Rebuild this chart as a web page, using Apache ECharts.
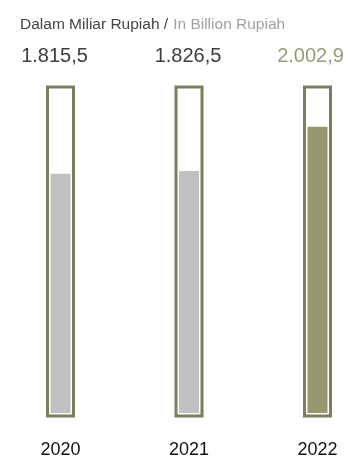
<!DOCTYPE html>
<html>
<head>
<meta charset="utf-8">
<script src="https://cdn.jsdelivr.net/npm/echarts@6/dist/echarts.min.js"></script>
<style>
  html, body { margin: 0; padding: 0; background: #fff; }
  #main { width: 350px; height: 459px; }
</style>
</head>
<body>
<div id="main"></div>
<script>
// 数据
var years = ['2020', '2021', '2022'];
var values = [1815.5, 1826.5, 2002.9];
var frameValues = [1, 1, 1];

// 颜色
var frameColor = '#7b7f5c';
var grayFill = '#c0c1c3';
var oliveFill = '#99976f';
var darkText = '#3d3d3d';
var oliveText = '#9a9a78';

// 1815.5 -> "1.815,5"
var formatId = function (v) {
    var parts = v.toFixed(1).split('.');
    var intPart = parts[0].replace(/\B(?=(\d{3})+(?!\d))/g, '.');
    return intPart + ',' + parts[1];
};

var labelOffsets = [[-6, 0], [-1, 0], [-7, 0]];

var myChart = echarts.init(document.getElementById('main'));

var option = {
    animation: false,
    title: {
        left: 15,
        top: 11,
        text: '{a|Dalam Miliar Rupiah /} {b|In Billion Rupiah}',
        textStyle: {
            fontFamily: 'Liberation Sans',
            fontWeight: 'normal',
            rich: {
                a: { fontSize: 15.5, color: '#444444', fontWeight: 'normal', fontFamily: 'Liberation Sans' },
                b: { fontSize: 15.5, color: '#a0a0a0', fontWeight: 'normal', fontFamily: 'Liberation Sans' }
            }
        }
    },
    grid: [
        { left: 60.5, right: 32.5, top: 85.5, bottom: 41.5 },
        { left: 60.5, right: 32.5, top: 86, bottom: 45 }
    ],
    xAxis: [
        {
            type: 'category',
            gridIndex: 0,
            data: years,
            boundaryGap: false,
            show: false
        },
        {
            type: 'category',
            gridIndex: 1,
            data: years,
            boundaryGap: false,
            axisLine: { show: false },
            axisTick: { show: false },
            axisLabel: {
                margin: 28,
                fontSize: 18,
                color: '#111111',
                fontFamily: 'Liberation Sans'
            }
        }
    ],
    yAxis: [
        { type: 'value', gridIndex: 0, min: 0, max: 1, show: false },
        { type: 'value', gridIndex: 1, min: 860, max: 2166, show: false }
    ],
    series: [
        {
            // 外框
            type: 'bar',
            xAxisIndex: 0,
            yAxisIndex: 0,
            barWidth: 29,
            data: frameValues.map(function (v, i) {
                return {
                    value: v,
                    label: {
                        color: i === 2 ? oliveText : darkText,
                        offset: labelOffsets[i]
                    }
                };
            }),
            itemStyle: {
                color: 'rgba(255,255,255,0)',
                borderColor: frameColor,
                borderWidth: 3
            },
            label: {
                show: true,
                position: 'top',
                distance: 19,
                fontSize: 20,
                fontFamily: 'Liberation Sans',
                formatter: function (p) {
                    return formatId(values[p.dataIndex]);
                }
            }
        },
        {
            // 数值柱
            type: 'bar',
            xAxisIndex: 1,
            yAxisIndex: 1,
            barWidth: 20,
            data: values.map(function (v, i) {
                return {
                    value: v,
                    itemStyle: { color: i === 2 ? oliveFill : grayFill }
                };
            })
        }
    ]
};

myChart.setOption(option);
</script>
</body>
</html>
